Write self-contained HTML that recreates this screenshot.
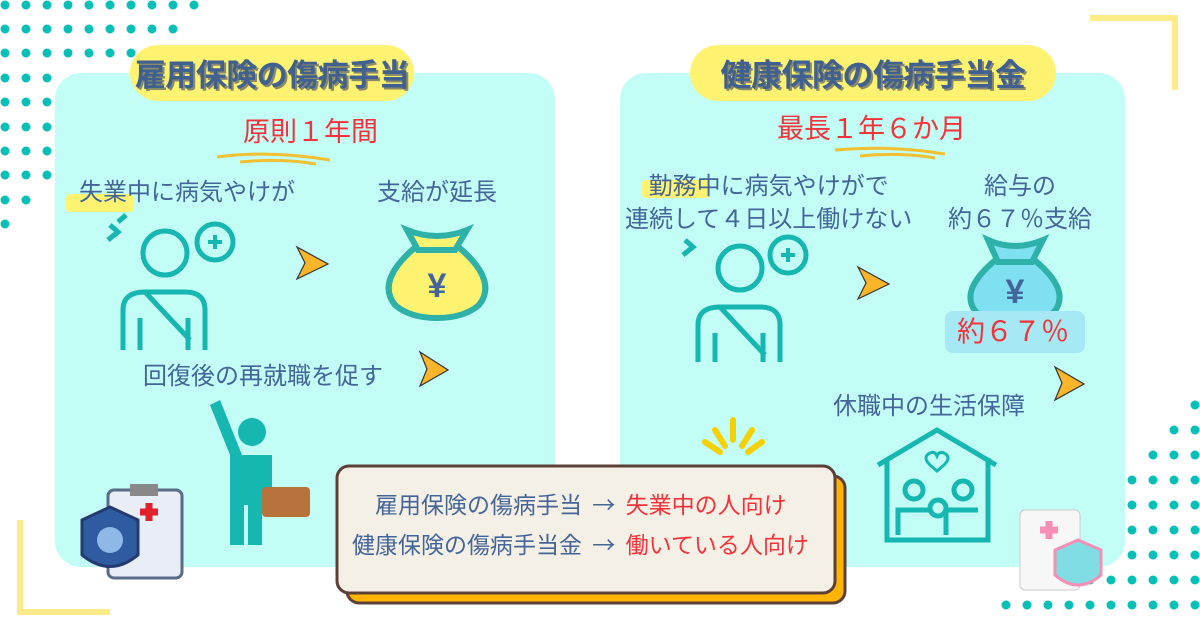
<!DOCTYPE html>
<html><head><meta charset="utf-8"><style>
body{margin:0;width:1200px;height:630px;position:relative;overflow:hidden;background:#fff;font-family:"Liberation Sans","Noto Sans CJK JP",sans-serif;}
.abs{position:absolute}
.panel{background:#c2fdf6;border-radius:26px}
.pill{background:#fdf371;border-radius:28px;color:#40608f;font-weight:bold;font-size:31px;text-align:center;line-height:56px;text-shadow:2px 2px 0 #8a8a6a;font-family:"Noto Sans CJK JP",sans-serif;white-space:nowrap;letter-spacing:-0.5px}
.t{color:#44659a;font-size:24px;white-space:nowrap;font-family:"Noto Sans CJK JP",sans-serif;line-height:1.2}
.red{color:#f2333a}
</style></head><body>
<svg class="abs" style="left:0;top:0" width="1200" height="630">
<g fill="#06bfb6">
<circle cx="5" cy="5" r="4.5"/><circle cx="26" cy="5" r="4.5"/><circle cx="47" cy="5" r="4.5"/><circle cx="68" cy="5" r="4.5"/><circle cx="89" cy="5" r="4.5"/><circle cx="110" cy="5" r="4.5"/><circle cx="131" cy="5" r="4.5"/><circle cx="152" cy="5" r="4.5"/><circle cx="173" cy="5" r="4.5"/><circle cx="194" cy="5" r="4.5"/>
<circle cx="5" cy="29" r="4.5"/><circle cx="26" cy="29" r="4.5"/><circle cx="47" cy="29" r="4.5"/><circle cx="68" cy="29" r="4.5"/><circle cx="89" cy="29" r="4.5"/><circle cx="110" cy="29" r="4.5"/><circle cx="131" cy="29" r="4.5"/><circle cx="152" cy="29" r="4.5"/><circle cx="173" cy="29" r="4.5"/>
<circle cx="5" cy="53" r="4.5"/><circle cx="26" cy="53" r="4.5"/><circle cx="47" cy="53" r="4.5"/><circle cx="68" cy="53" r="4.5"/><circle cx="89" cy="53" r="4.5"/><circle cx="110" cy="53" r="4.5"/><circle cx="131" cy="53" r="4.5"/>
<circle cx="5" cy="78" r="4.5"/><circle cx="26" cy="78" r="4.5"/><circle cx="47" cy="78" r="4.5"/>
<circle cx="5" cy="102" r="4.5"/><circle cx="26" cy="102" r="4.5"/><circle cx="47" cy="102" r="4.5"/>
<circle cx="5" cy="127" r="4.5"/><circle cx="26" cy="127" r="4.5"/><circle cx="47" cy="127" r="4.5"/>
<circle cx="5" cy="151" r="4.5"/><circle cx="26" cy="151" r="4.5"/><circle cx="47" cy="151" r="4.5"/>
<circle cx="5" cy="175" r="4.5"/><circle cx="26" cy="175" r="4.5"/><circle cx="47" cy="175" r="4.5"/>
<circle cx="5" cy="200" r="4.5"/><circle cx="26" cy="200" r="4.5"/>
<circle cx="5" cy="224" r="4.5"/>
<circle cx="1195" cy="405" r="4.5"/>
<circle cx="1174" cy="430" r="4.5"/><circle cx="1195" cy="430" r="4.5"/>
<circle cx="1153" cy="455" r="4.5"/><circle cx="1174" cy="455" r="4.5"/><circle cx="1195" cy="455" r="4.5"/>
<circle cx="1132" cy="480" r="4.5"/><circle cx="1153" cy="480" r="4.5"/><circle cx="1174" cy="480" r="4.5"/><circle cx="1195" cy="480" r="4.5"/>
<circle cx="1132" cy="505" r="4.5"/><circle cx="1153" cy="505" r="4.5"/><circle cx="1174" cy="505" r="4.5"/><circle cx="1195" cy="505" r="4.5"/>
<circle cx="1111" cy="530" r="4.5"/><circle cx="1132" cy="530" r="4.5"/><circle cx="1153" cy="530" r="4.5"/><circle cx="1174" cy="530" r="4.5"/><circle cx="1195" cy="530" r="4.5"/>
<circle cx="1090" cy="555" r="4.5"/><circle cx="1111" cy="555" r="4.5"/><circle cx="1132" cy="555" r="4.5"/><circle cx="1153" cy="555" r="4.5"/><circle cx="1174" cy="555" r="4.5"/><circle cx="1195" cy="555" r="4.5"/>
<circle cx="1027" cy="580" r="4.5"/><circle cx="1048" cy="580" r="4.5"/><circle cx="1069" cy="580" r="4.5"/><circle cx="1090" cy="580" r="4.5"/><circle cx="1111" cy="580" r="4.5"/><circle cx="1132" cy="580" r="4.5"/><circle cx="1153" cy="580" r="4.5"/><circle cx="1174" cy="580" r="4.5"/><circle cx="1195" cy="580" r="4.5"/>
<circle cx="1006" cy="605" r="4.5"/><circle cx="1027" cy="605" r="4.5"/><circle cx="1048" cy="605" r="4.5"/><circle cx="1069" cy="605" r="4.5"/><circle cx="1090" cy="605" r="4.5"/><circle cx="1111" cy="605" r="4.5"/><circle cx="1132" cy="605" r="4.5"/><circle cx="1153" cy="605" r="4.5"/><circle cx="1174" cy="605" r="4.5"/><circle cx="1195" cy="605" r="4.5"/>
</g>
<path d="M1090 18 L1175 18 L1175 90" fill="none" stroke="#fce56a" stroke-width="6" opacity=".8"/>
<path d="M20 520 L20 612 L110 612" fill="none" stroke="#fce56a" stroke-width="6" opacity=".8"/>
</svg>

<div class="abs panel" style="left:55px;top:73px;width:500px;height:494px"></div>
<div class="abs panel" style="left:620px;top:73px;width:505px;height:494px"></div>
<div class="abs pill" style="left:130px;top:45px;width:284px;height:56px">雇用保険の傷病手当</div>
<div class="abs pill" style="left:690px;top:45px;width:366px;height:56px">健康保険の傷病手当金</div>

<div class="abs t red" style="left:243px;top:114px;font-size:27px">原則１年間</div>
<div class="abs t red" style="left:777px;top:111px;font-size:27px">最長１年６か月</div>
<svg class="abs" style="left:0;top:0" width="1200" height="630">
<path d="M217 157 Q270 150 330 160 M240 162 Q280 158 316 164" stroke="#f0c030" stroke-width="3" fill="none"/>
<path d="M835 150 Q890 145 945 154 M860 156 Q900 152 935 158" stroke="#f0c030" stroke-width="3" fill="none"/>
<rect x="66" y="194" width="68" height="18" fill="#fdf371" rx="4"/>
<rect x="642" y="180" width="68" height="18" fill="#fdf371" rx="4"/>
<g fill="#fbb52a" stroke="#333" stroke-width="1.2">
<path d="M297 247 L328 264 L297 279 L305 263Z"/>
<path d="M858 267 L889 284 L858 299 L866 283Z"/>
<path d="M420 352 L448 370 L420 386 L427 369Z"/>
<path d="M1055 367 L1084 384 L1055 400 L1062 383Z"/>
</g>
<g fill="none" stroke="#16b7b0" stroke-width="5">
<circle cx="165" cy="253" r="22"/><path d="M123 350 V310 Q123 292 145 292 H185 Q205 292 205 310 V350 M140 350 V318 M188 350 V318 M145 292 L190 340"/>
<circle cx="215" cy="242" r="18"/><path d="M108 240 L118 232 L110 225 M126 215 L118 222" />
<circle cx="740" cy="268" r="22"/><path d="M698 362 V325 Q698 307 720 307 H760 Q780 307 780 325 V362 M715 362 V333 M763 362 V333 M720 307 L765 355"/>
<circle cx="788" cy="255" r="18"/><path d="M683 255 L693 247 L685 240"/>
<path d="M878 465 L937 430 L996 465 M887 458 V540 H988 V458"/><circle cx="914" cy="490" r="9"/><circle cx="963" cy="490" r="9"/><circle cx="938" cy="508" r="8"/><path d="M898 535 V510 H930 M946 535 V510 H978"/>
</g>
<g fill="none" stroke="#16b7b0" stroke-width="4"><path d="M208 242 h14 M215 235 v14"/><path d="M781 255 h14 M788 248 v14"/></g>
<path d="M930 465 q-8 -8 0 -12 q5 -2 7 3 q2 -5 7 -3 q8 4 0 12 l-7 6z" fill="none" stroke="#16b7b0" stroke-width="3"/>
<g stroke="#2db1a8" stroke-width="6">
<path d="M418 245 Q375 280 395 305 Q410 318 437 318 Q464 318 479 305 Q499 280 456 245Z" fill="#fdf371"/>
<path d="M407 230 Q437 242 467 230 L455 250 H418Z" fill="#fdf371"/>
<path d="M998 258 Q958 290 976 312 Q990 323 1015 323 Q1040 323 1054 312 Q1072 290 1032 258Z" fill="#7ee0f0"/>
<path d="M988 240 Q1015 252 1043 240 L1032 262 H998Z" fill="#7ee0f0"/>
</g>
<text x="437" y="297" font-size="34" fill="#44659a" text-anchor="middle" font-weight="bold" font-family="Liberation Sans,sans-serif">¥</text>
<text x="1015" y="303" font-size="34" fill="#44659a" text-anchor="middle" font-weight="bold" font-family="Liberation Sans,sans-serif">¥</text>
<rect x="945" y="311" width="140" height="42" rx="8" fill="#a6e8f3"/>
<g fill="#16b7b0"><circle cx="252" cy="432" r="14"/><path d="M232 455 H272 V500 H262 V545 H248 V505 H244 V545 H230 V455Z M232 460 L210 405 L220 400 L242 455Z"/></g>
<rect x="262" y="487" width="48" height="30" rx="4" fill="#b8733c"/>
<rect x="108" y="490" width="74" height="88" rx="6" fill="#e9eef6" stroke="#5a6b8a" stroke-width="3"/><rect x="130" y="484" width="28" height="12" fill="#888"/>
<path d="M140 512 h18 M149 503 v18" stroke="#e0202a" stroke-width="7"/>
<path d="M82 520 L110 507 L138 520 V555 Q110 578 82 555Z" fill="#2f5ba0" stroke="#243a70" stroke-width="3"/><circle cx="110" cy="540" r="13" fill="#8fb8e6"/>
<g stroke="#f7d000" stroke-width="6" stroke-linecap="round"><path d="M733 420 V440 M715 430 L725 446 M752 430 L742 446 M705 442 L720 452 M762 442 L748 452"/></g>
<rect x="1020" y="510" width="60" height="80" rx="5" fill="#f7f7f7" stroke="#ccc"/><path d="M1040 530 h18 M1049 521 v18" stroke="#f58fb5" stroke-width="7"/>
<path d="M1055 550 L1078 540 L1101 550 V575 Q1078 595 1055 575Z" fill="#7fdde3" stroke="#f58fb5" stroke-width="3"/>
<rect x="347" y="476" width="498" height="127" rx="12" fill="#ffb400" stroke="#5c4038" stroke-width="3"/>
<rect x="337" y="466" width="498" height="127" rx="12" fill="#f5f0e6" stroke="#5c4038" stroke-width="3"/>
</svg>

<div class="abs t" style="left:79px;top:176px">失業中に病気やけが</div>
<div class="abs t" style="left:377px;top:176px">支給が延長</div>
<div class="abs t" style="left:143px;top:360px">回復後の再就職を促す</div>
<div class="abs t" style="left:625px;top:167px;line-height:33px;text-align:center">勤務中に病気やけがで<br>連続して４日以上働けない</div>
<div class="abs t" style="left:948px;top:167px;line-height:33px;text-align:center">給与の<br>約６７％支給</div>
<div class="abs t red" style="left:957px;top:314px;font-size:28px">約６７％</div>
<div class="abs t" style="left:833px;top:390px">休職中の生活保障</div>
<div class="abs t" style="left:375px;top:490px;font-size:23px">雇用保険の傷病手当 &nbsp;→&nbsp; <span class="red">失業中の人向け</span></div>
<div class="abs t" style="left:352px;top:530px;font-size:23px">健康保険の傷病手当金 &nbsp;→&nbsp; <span class="red">働いている人向け</span></div>
</body></html>
